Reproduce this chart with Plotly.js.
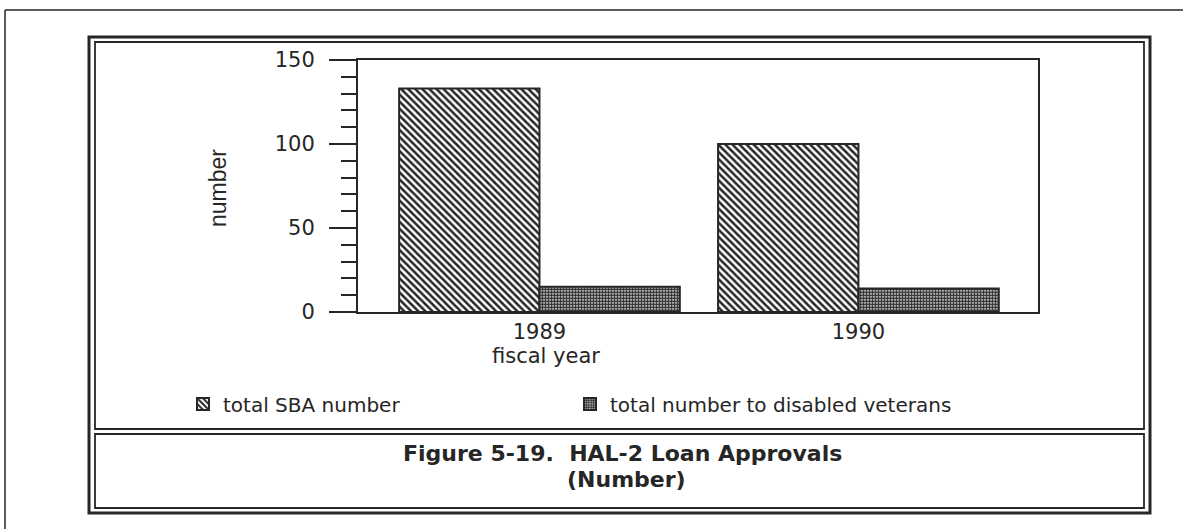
<!DOCTYPE html>
<html>
<head>
<meta charset="utf-8">
<script src="https://cdn.plot.ly/plotly-3.0.1.min.js"></script>
<style>
  html, body { margin: 0; padding: 0; background: #fff; }
  #plot { width: 1183px; height: 529px; }
</style>
</head>
<body>
<div id="plot"></div>
<script>
// fiscal years and loan approval counts
const years = ["1989", "1990"];
const sbaTotal = [133, 100];
const disabledVets = [15, 14];
const seriesNames = ["total SBA number", "total number to disabled veterans"];
const yTicks = [0, 50, 100, 150];

const W = 1183, H = 529;
const M = { l: 358, r: 145, t: 60, b: 217 };
const plotW = W - M.l - M.r;
const plotH = H - M.t - M.b;

// pixel position -> paper coordinate, for the frame and the text
const px = (x) => (x - M.l) / plotW;
const py = (y) => (H - M.b - y) / plotH;

const ink = "#262626";
const txtFont = "DejaVu Sans, Arial, sans-serif";

const trace1 = {
  x: years,
  y: sbaTotal,
  name: seriesNames[0],
  type: "bar",
  marker: {
    color: "#ffffff",
    line: { color: ink, width: 2 },
    pattern: { shape: "\\", fgcolor: ink, bgcolor: "#ffffff", size: 5, solidity: 0.5 },
  },
};
const trace2 = {
  x: years,
  y: disabledVets,
  name: seriesNames[1],
  type: "bar",
  marker: {
    color: "#ffffff",
    line: { color: ink, width: 2 },
    pattern: { shape: ".", fgcolor: "#303030", bgcolor: "#ffffff", size: 3, solidity: 0.75 },
  },
};

function line(x0, y0, x1, y1, w) {
  return {
    type: "line", xref: "paper", yref: "paper",
    x0: px(x0), y0: py(y0), x1: px(x1), y1: py(y1),
    line: { color: ink, width: w },
  };
}
function box(x0, y0, x1, y1, w) {
  return {
    type: "rect", xref: "paper", yref: "paper",
    x0: px(x0), y0: py(y0), x1: px(x1), y1: py(y1),
    line: { color: ink, width: w },
  };
}

const frame = [
  // page edge
  line(5, 10, 1183, 10, 1.5),
  line(5, 10, 5, 529, 1.5),
  // double frame round the figure
  box(89, 37, 1150, 513, 3),
  box(95, 42, 1144, 429, 1.8),
  box(95, 434, 1144, 508, 1.8),
];

function label(x, y, text, font, extra) {
  return Object.assign({
    xref: "paper", yref: "paper",
    x: px(x), y: py(y),
    xanchor: "center", yanchor: "middle",
    text: text,
    showarrow: false,
    font: font,
  }, extra || {});
}

const layout = {
  width: W,
  height: H,
  margin: M,
  showlegend: true,
  barmode: "group",
  bargap: 0.12,
  bargroupgap: 0,
  shapes: frame,
  legend: {
    orientation: "h",
    x: px(183),
    y: py(404),
    xanchor: "left",
    yanchor: "middle",
    entrywidth: 342,
    font: { family: txtFont, size: 20, color: ink },
    bgcolor: "rgba(0,0,0,0)",
  },
  xaxis: {
    type: "category",
    range: [-0.569, 1.563],
    showline: true,
    linecolor: ink,
    linewidth: 2,
    mirror: true,
    ticks: "",
    showgrid: false,
    zeroline: false,
    tickfont: { family: txtFont, size: 21, color: ink },
  },
  yaxis: {
    range: [0, 150],
    tickvals: yTicks,
    showline: true,
    linecolor: ink,
    linewidth: 2,
    mirror: true,
    ticks: "outside",
    ticklen: 27,
    tickwidth: 2,
    tickcolor: ink,
    ticklabelstandoff: 10,
    minor: { dtick: 10, ticks: "outside", ticklen: 15, tickwidth: 2, tickcolor: ink },
    showgrid: false,
    zeroline: false,
    tickfont: { family: txtFont, size: 21, color: ink },
  },
  annotations: [
    label(218, 188, "number",
      { family: "Liberation Sans Narrow, Arial Narrow, Arial, sans-serif", size: 23, color: ink },
      { textangle: -90 }),
    label(546, 356, "fiscal year", { family: txtFont, size: 21, color: ink }),
    label(622, 453, "<b>Figure 5-19.\u00a0 HAL-2 Loan Approvals</b>", { family: txtFont, size: 22, color: ink }),
    label(626, 480, "<b>(Number)</b>", { family: txtFont, size: 22, color: ink }),
  ],
  plot_bgcolor: "#ffffff",
  paper_bgcolor: "#ffffff",
};

Plotly.newPlot("plot", [trace1, trace2], layout, { displayModeBar: false, staticPlot: true });
</script>
</body>
</html>
